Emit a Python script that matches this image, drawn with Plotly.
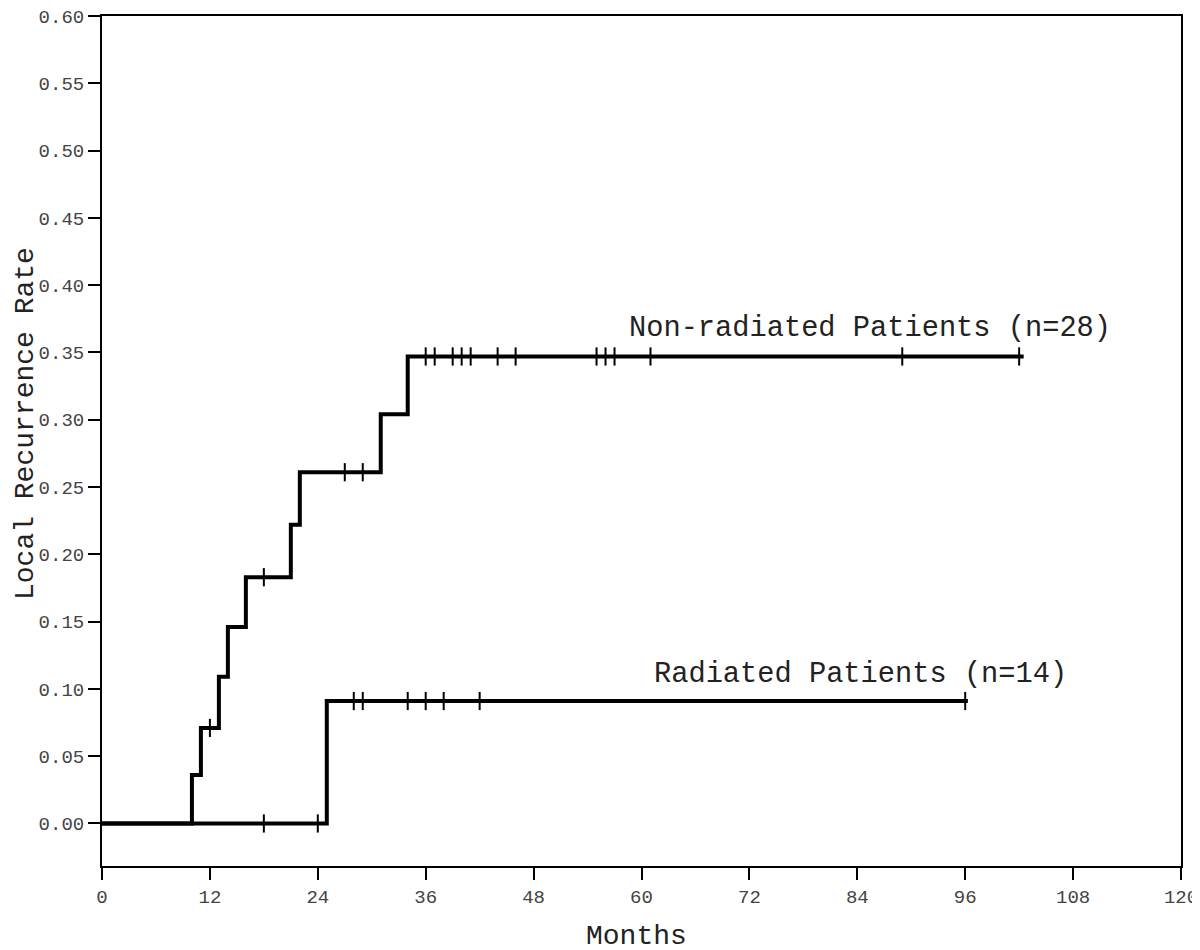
import numpy as np
import plotly.graph_objects as go

# step curves (month of event, cumulative recurrence rate)
nonrad_months = [0, 10, 11, 13, 14, 16, 21, 22, 31, 34, 102.5]
nonrad_rate = [0.0, 0.036, 0.071, 0.109, 0.146, 0.183, 0.222, 0.261, 0.304, 0.347, 0.347]
nonrad_censor = [12, 18, 27, 29, 36, 37, 39, 40, 41, 44, 46, 55, 56, 57, 61, 89, 102]

rad_months = [0, 25, 96.3]
rad_rate = [0.0, 0.091, 0.091]
rad_censor = [18, 24, 28, 29, 34, 36, 38, 42, 96]

x_ticks = list(range(0, 121, 12))
y_ticks = [round(0.05 * i, 2) for i in range(13)]


def step_value(months, rate, t):
    idx = np.searchsorted(months, t, side="right") - 1
    return rate[idx]


font_family = "Liberation Mono, Courier New, monospace"

fig = go.Figure()
for months, rate, censor in [(nonrad_months, nonrad_rate, nonrad_censor),
                             (rad_months, rad_rate, rad_censor)]:
    fig.add_trace(go.Scatter(
        x=months, y=rate, mode="lines", line_shape="hv",
        line=dict(color="black", width=4), showlegend=False, hoverinfo="skip"))
    fig.add_trace(go.Scatter(
        x=censor, y=[step_value(months, rate, t) for t in censor],
        mode="markers", showlegend=False,
        marker=dict(symbol="line-ns-open", size=13, color="black",
                    line=dict(color="black", width=2))))

fig.add_annotation(x=58.4, y=0.368, text="Non-radiated Patients (n=28)", showarrow=False,
                   xanchor="left", yanchor="middle",
                   font=dict(family=font_family, size=28.7, color="#222"))
fig.add_annotation(x=61.2, y=0.111, text="Radiated Patients (n=14)", showarrow=False,
                   xanchor="left", yanchor="middle",
                   font=dict(family=font_family, size=28.7, color="#222"))

# axis titles placed by hand
fig.add_annotation(x=0, y=0.52, xref="paper", yref="paper", xshift=-77,
                   text="Local Recurrence Rate", textangle=-90, showarrow=False,
                   xanchor="center", yanchor="middle",
                   font=dict(family=font_family, size=28, color="#222"))
fig.add_annotation(x=0.4958, y=0, xref="paper", yref="paper", yshift=-70,
                   text="Months", showarrow=False,
                   xanchor="center", yanchor="middle",
                   font=dict(family=font_family, size=28, color="#222"))

axis_common = dict(showline=True, linecolor="black", linewidth=2, mirror=True,
                   ticks="outside", ticklen=12, tickwidth=2, tickcolor="black",
                   showgrid=False, zeroline=False, automargin=False,
                   ticklabeloverflow="allow")

fig.update_layout(
    width=1200, height=950,
    margin=dict(l=94, r=27, t=8, b=92),
    plot_bgcolor="white", paper_bgcolor="white",
    font=dict(family=font_family),
    xaxis=dict(range=[0, 120], tickvals=x_ticks,
               tickfont=dict(size=19, color="#444"), **axis_common),
    yaxis=dict(range=[-0.0316, 0.6], tickvals=y_ticks, tickformat=".2f",
               tickfont=dict(size=19, color="#444"), **axis_common),
)

fig.write_html("out.html")
